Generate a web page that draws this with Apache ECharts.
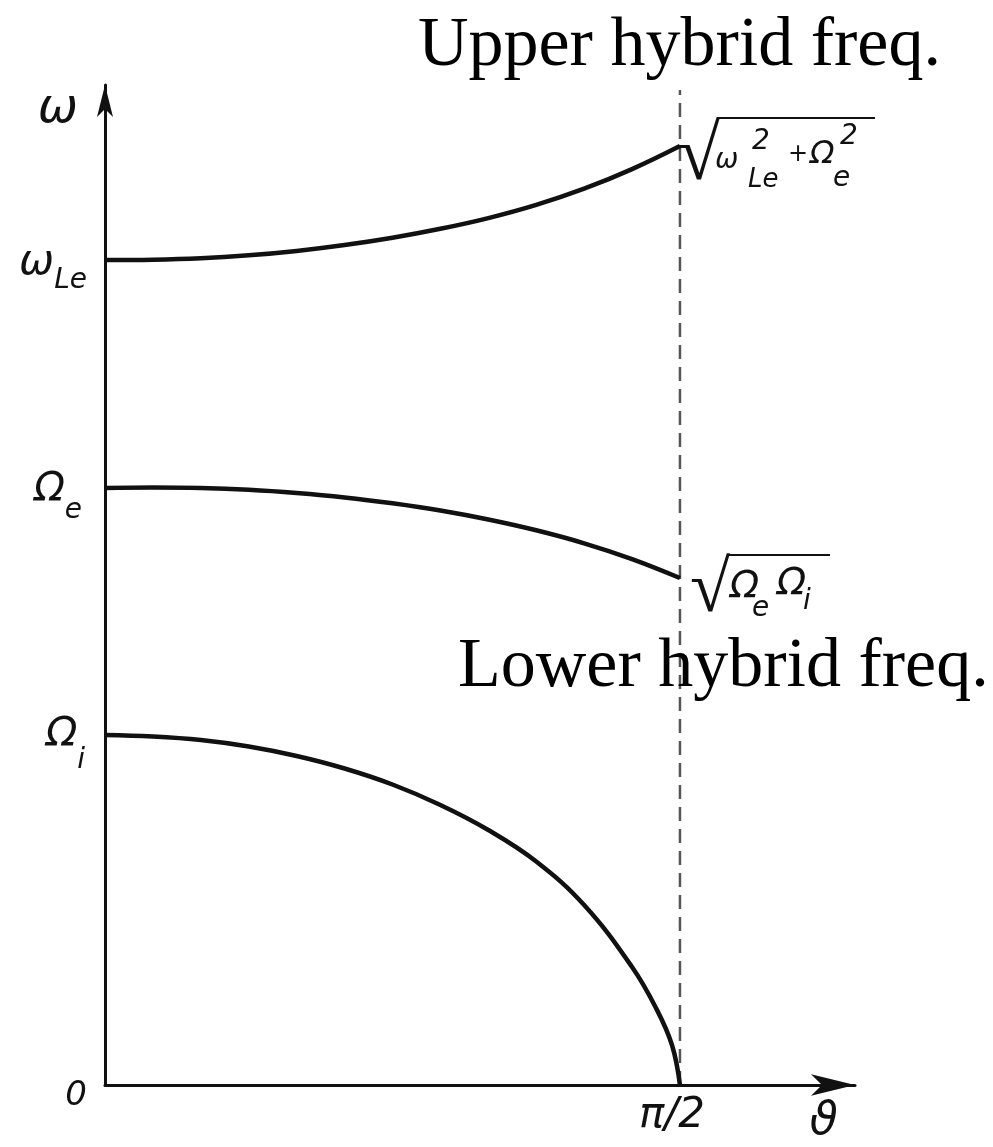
<!DOCTYPE html>
<html>
<head>
<meta charset="utf-8">
<script src="https://cdn.jsdelivr.net/npm/echarts@6/dist/echarts.min.js"></script>
<style>
  html, body { margin: 0; padding: 0; background: #fff; }
  #chart { width: 993px; height: 1147px; }
</style>
</head>
<body>
<div id="chart"></div>
<script>
// Propagation angle θ in degrees (90 = π/2), frequency ω in arbitrary units.
const upperTheta = [0, 7.5, 15, 22.5, 30, 37.5, 45, 52.5, 60, 67.5, 75, 82.5, 90];
const upperOmega = [82.5, 82.53, 82.67, 82.97, 83.41, 84.0, 84.73, 85.62, 86.69, 88.01, 89.63, 91.59, 93.9];

const middleTheta = [0, 7.5, 15, 22.5, 30, 37.5, 45, 52.5, 60, 67.5, 75, 82.5, 90];
const middleOmega = [59.7, 59.75, 59.7, 59.52, 59.2, 58.76, 58.17, 57.45, 56.55, 55.47, 54.17, 52.59, 50.7];

const lowerTheta = [0, 7.5, 15, 22.5, 30, 37.5, 45, 52.5, 60, 67.5, 75, 82.5, 86.25, 88.75, 90];
const lowerOmega = [35.0, 34.85, 34.5, 33.85, 32.9, 31.65, 30.05, 28.0, 25.5, 22.35, 18.0, 11.8, 7.7, 4.0, 0];

// vertical guide at θ = π/2
const guideTheta = [90, 90];
const guideOmega = [0, 99.5];

const yTickValues = [0, 35.0, 59.7, 82.5, 97.5];
const yTickLabels = ['0', 'Ω|i', 'Ω|e', 'ω|Le', 'ω'];
const xTickValues = [90, 112.5];
const xTickLabels = ['π/2', 'ϑ'];

const upperTitle = 'Upper hybrid freq.';
const lowerTitle = 'Lower hybrid freq.';

const INK = '#111';
const HAND = 'DejaVu Sans';

function pairs(xs, ys) { return xs.map((x, i) => [x, ys[i]]); }
function last(arr) { return arr[arr.length - 1]; }

const handStyle = { fontFamily: HAND, fontStyle: 'italic', color: INK };
function hand(extra) { return Object.assign({}, handStyle, extra); }

// y-axis label: main symbol centred on its tick, subscript lower right
function yLabel(value) {
  let idx = 0;
  yTickValues.forEach((v, i) => { if (Math.abs(v - value) < Math.abs(yTickValues[idx] - value)) idx = i; });
  const parts = yTickLabels[idx].split('|');
  if (idx === 0) return '{zero|' + parts[0] + '}';
  if (parts.length === 1) return '{top|' + parts[0] + '}';
  const subStyle = ['', 'isub', 'esub', 'lsub'][idx];
  const mainStyle = ['', 'om', 'oe', 'wm'][idx];
  return '{' + mainStyle + '|' + parts[0] + '}{' + subStyle + '|' + parts[1] + '}';
}

const yRich = {
  zero: hand({ fontSize: 34, lineHeight: 34, padding: [22, 0, 0, 0] }),
  top: hand({ fontSize: 48, lineHeight: 40, padding: [0, 9, 0, 0] }),
  om: hand({ fontSize: 41, lineHeight: 41 }),
  oe: hand({ fontSize: 40, lineHeight: 40, verticalAlign: 'top', padding: [3, 0, 0, 0] }),
  wm: hand({ fontSize: 42, lineHeight: 42, verticalAlign: 'top', padding: [3, 0, 0, 0] }),
  esub: hand({ fontSize: 28, lineHeight: 1, verticalAlign: 'top', padding: [29, 5, 0, 0] }),
  isub: hand({ fontSize: 28, lineHeight: 1, verticalAlign: 'top', padding: [32, 2, 0, 0] }),
  lsub: hand({ fontSize: 28, lineHeight: 1, verticalAlign: 'top', padding: [28, 0, 0, 0] })
};

// Formula glyphs placed around a curve end: [text, font size, dx, dy]
const upperFormulaGlyphs = [
  ['ω', 28, 35, 15], ['Le', 26, 68, 34], ['2', 28, 72, -4],
  ['+', 24, 108, 9], ['Ω', 32, 130, 9], ['2', 28, 160, -9], ['e', 28, 153, 33]
];
const middleFormulaGlyphs = [
  ['Ω', 38, 50, 9], ['e', 28, 72, 31], ['Ω', 38, 97, 6], ['i', 28, 123, 24]
];

function formulaItems(coord, glyphs, bar, radical) {
  const items = glyphs.map(g => ({
    coord: coord,
    label: Object.assign({ show: true, position: 'right', distance: 0, offset: [g[2], g[3]],
      formatter: g[0] }, hand({ fontSize: g[1] }))
  }));
  // overline of the square root
  items.push({
    coord: coord,
    label: { show: true, position: 'right', distance: 0, offset: [bar.dx, bar.dy], formatter: '{b|}',
      rich: { b: { width: bar.width, height: 2, lineHeight: 2, backgroundColor: INK } } }
  });
  // radical sign
  items.push({
    coord: coord,
    label: { show: true, position: 'right', distance: 0, align: 'right', offset: [radical.dx, radical.dy],
      formatter: '√', fontFamily: 'Liberation Serif', fontSize: radical.size, color: INK }
  });
  return items;
}

function curve(name, xs, ys, extra) {
  return Object.assign({
    name: name,
    type: 'line',
    data: pairs(xs, ys),
    smooth: 0.4,
    symbol: 'none',
    lineStyle: { color: INK, width: 4.5 },
    z: 3
  }, extra || {});
}

const chart = echarts.init(document.getElementById('chart'), null, { renderer: 'canvas' });

chart.setOption({
  animation: false,
  backgroundColor: '#fff',
  title: [
    { text: upperTitle, left: 413, top: 7,
      textStyle: { fontFamily: 'Liberation Serif', fontSize: 70, fontWeight: 'normal', color: '#000' } },
    { text: lowerTitle, left: 453, top: 628,
      textStyle: { fontFamily: 'Liberation Serif', fontSize: 70, fontWeight: 'normal', color: '#000' } }
  ],
  grid: { left: 105, right: 138, top: 85, bottom: 62, containLabel: false },
  xAxis: {
    type: 'value', min: 0, max: 117.4,
    splitLine: { show: false },
    axisTick: { show: false },
    axisLine: { show: true, onZero: true, symbol: ['none', 'arrow'], symbolSize: [16, 44],
      lineStyle: { color: INK, width: 3 } },
    axisLabel: {
      customValues: xTickValues,
      margin: 10,
      formatter: v => xTickLabels[xTickValues.indexOf(v)] === 'π/2' ? '{pi|π/2}' : '{th|ϑ}',
      rich: {
        pi: hand({ fontSize: 42, padding: [0, 16, 0, 0] }),
        th: hand({ fontSize: 46, padding: [4, 0, 0, 0] })
      }
    }
  },
  yAxis: {
    type: 'value', min: 0, max: 100,
    splitLine: { show: false },
    axisTick: { show: false },
    axisLine: { show: true, onZero: false, symbol: ['none', 'arrow'], symbolSize: [12, 32],
      lineStyle: { color: INK, width: 3 } },
    axisLabel: {
      customValues: yTickValues,
      margin: 18,
      formatter: yLabel,
      rich: yRich
    }
  },
  series: [
    curve('upper', upperTheta, upperOmega, {
      markPoint: {
        symbol: 'circle', symbolSize: 0, silent: true,
        data: formulaItems([last(upperTheta), last(upperOmega)], upperFormulaGlyphs,
          { dx: 37, dy: -28, width: 158 }, { dx: 40, dy: 13, size: 78 })
      }
    }),
    curve('middle', middleTheta, middleOmega, {
      markPoint: {
        symbol: 'circle', symbolSize: 0, silent: true,
        data: formulaItems([last(middleTheta), last(middleOmega)], middleFormulaGlyphs,
          { dx: 48, dy: -23, width: 102 }, { dx: 50, dy: 14, size: 73 })
      }
    }),
    curve('lower', lowerTheta, lowerOmega),
    {
      name: 'guide',
      type: 'line',
      data: pairs(guideTheta, guideOmega),
      symbol: 'none',
      lineStyle: { color: '#555', width: 2.5, type: [14, 8] },
      z: 2
    }
  ]
});
</script>
</body>
</html>
